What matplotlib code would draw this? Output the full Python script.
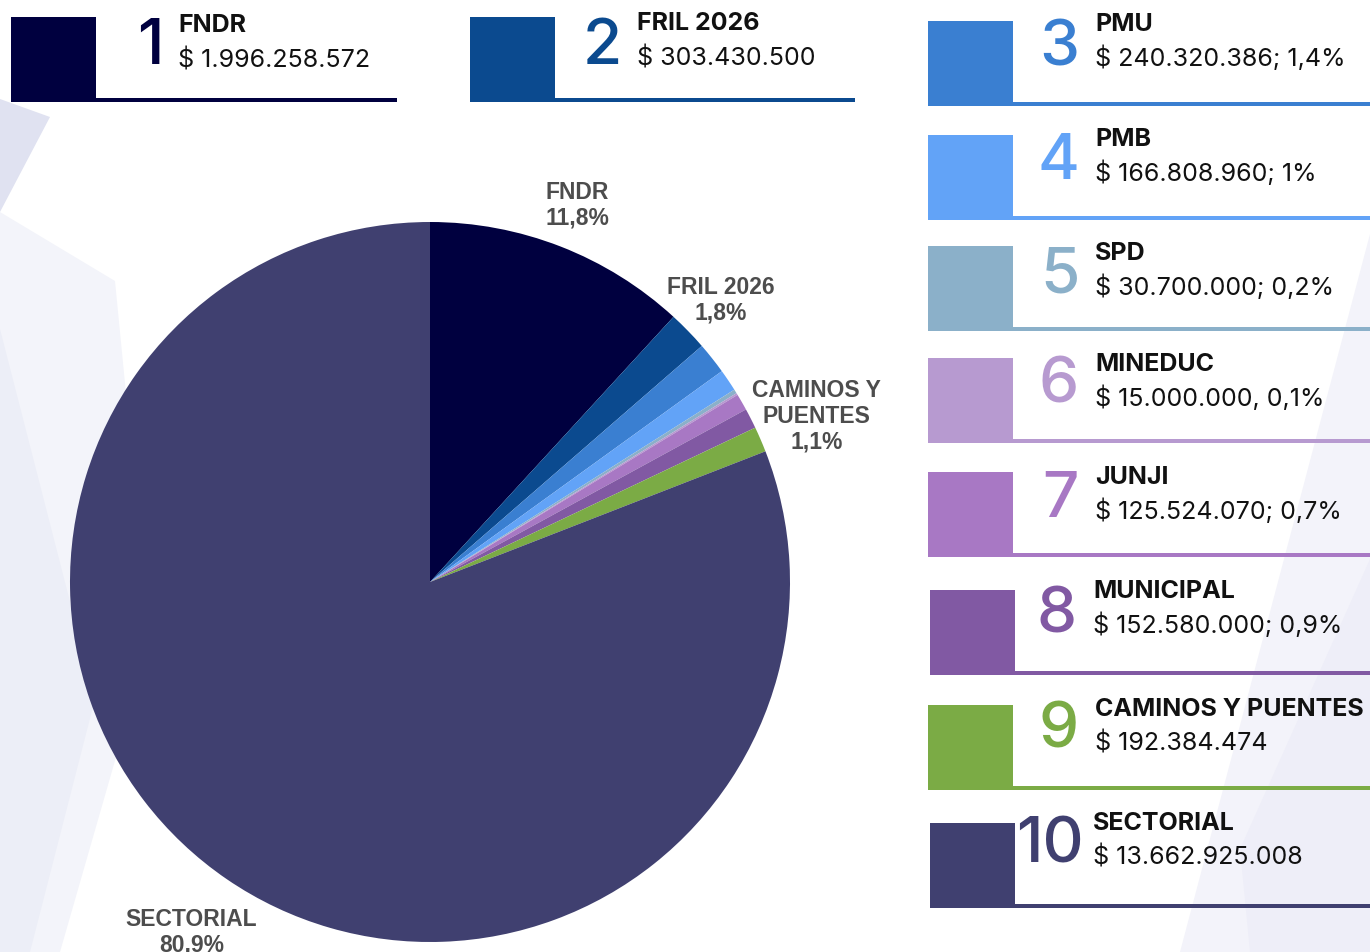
"""Budget distribution pie with numbered side legend."""

import math

import matplotlib
matplotlib.use("Agg")
import matplotlib.pyplot as plt
from matplotlib.patches import Polygon, Rectangle

W, H = 1370, 953

# --- data -------------------------------------------------------------
names = ["FNDR", "FRIL 2026", "PMU", "PMB", "SPD", "MINEDUC", "JUNJI",
         "MUNICIPAL", "CAMINOS Y PUENTES", "SECTORIAL"]
amounts = [1996258572, 303430500, 240320386, 166808960, 30700000,
           15000000, 125524070, 152580000, 192384474, 13662925008]
value_text = ["$ 1.996.258.572", "$ 303.430.500", "$ 240.320.386; 1,4%",
              "$ 166.808.960; 1%", "$ 30.700.000; 0,2%", "$ 15.000.000, 0,1%",
              "$ 125.524.070; 0,7%", "$ 152.580.000; 0,9%", "$ 192.384.474",
              "$ 13.662.925.008"]
colors = ["#00003f", "#0b4a8f", "#3a7fd1", "#62a3f7", "#8bb0c9", "#b79ad0",
          "#a878c4", "#8159a3", "#7bab45", "#404070"]
# slices that carry an outside label: index -> text
pie_labels = {0: "FNDR\n11,8%", 1: "FRIL 2026\n1,8%",
              8: "CAMINOS Y\nPUENTES\n1,1%", 9: "SECTORIAL\n80,9%"}

# --- layout (pixel coords, y down) -----------------------------------
center = (430, 583)
radius = 360
label_dist = {0: 1.125, 1: 1.128, 8: 1.17, 9: 1.175}

# legend boxes: (square left, square top, line end, number x, number y,
#                text x, title y)  -- y values are glyph centres
boxes = [(11, 18, 397, 150, 41, 178, 23), (470, 18, 855, 602, 41, 637, 21),
         (928, 22, W, 1059, 42, 1095, 22), (928, 136, W, 1058, 156, 1095, 137),
         (928, 247, W, 1060, 270, 1095, 251), (928, 359, W, 1059, 380, 1095, 362),
         (928, 473, W, 1061, 494, 1095, 475), (930, 591, W, 1057, 610, 1093, 589),
         (928, 706, W, 1059, 725, 1095, 707), (930, 824, W, 1050, 840, 1093, 821)]
SQ = 85

fig = plt.figure(figsize=(W / 100, H / 100), dpi=100)
ax = fig.add_axes([0, 0, 1, 1])

# faint background shapes
bg = [([(0, 100), (50, 118), (0, 213)], "#e0e2f1"),
      ([(0, 213), (115, 282), (150, 640), (60, 953), (0, 953)], "#f3f4fa"),
      ([(0, 330), (0, 953), (30, 953), (95, 700)], "#eceef7"),
      ([(1370, 235), (1370, 953), (1180, 953)], "#f3f3fa"),
      ([(1370, 560), (1370, 953), (1250, 953), (1240, 850)], "#eeeef8")]
for pts, c in bg:
    ax.add_patch(Polygon(pts, closed=True, facecolor=c, edgecolor="none", zorder=0))

# y axis is flipped, so start at -90 and go "counterclockwise" in data
# space -> visually clockwise from 12 o'clock
wedges, _ = ax.pie(amounts, colors=colors, startangle=-90, counterclock=True,
                   center=center, radius=radius,
                   wedgeprops=dict(linewidth=0, zorder=2))

for i, txt in pie_labels.items():
    w = wedges[i]
    mid = math.radians((w.theta1 + w.theta2) / 2)
    d = radius * label_dist[i]
    ax.text(center[0] + d * math.cos(mid), center[1] + d * math.sin(mid), txt,
            ha="center", va="center", fontsize=16.5, fontweight="bold",
            family="Liberation Sans", color="#4d4d4d", linespacing=1.15,
            zorder=3)

for i, (x0, y0, xend, nx, ny, tx, ty) in enumerate(boxes):
    c = colors[i]
    ax.add_patch(Rectangle((x0, y0 + SQ - 4), xend - x0, 4, facecolor=c,
                           edgecolor="none", zorder=2))
    ax.add_patch(Rectangle((x0, y0), SQ, SQ, facecolor=c, edgecolor="none",
                           zorder=3))
    ax.text(nx, ny + 23, str(i + 1), ha="center", va="baseline", fontsize=46,
            family="Inter", fontweight="medium", color=c, zorder=3)
    ax.text(tx, ty + 9, names[i], ha="left", va="baseline", fontsize=18,
            fontweight="bold", family="Inter", color="#111111", zorder=3)
    ax.text(tx, ty + 35 + 9, value_text[i], ha="left", va="baseline",
            fontsize=18, family="Inter", color="#111111", zorder=3)

ax.set_xlim(0, W)
ax.set_ylim(H, 0)
ax.set_aspect("equal")
ax.axis("off")

fig.savefig("out.png", dpi=100, facecolor="white")
